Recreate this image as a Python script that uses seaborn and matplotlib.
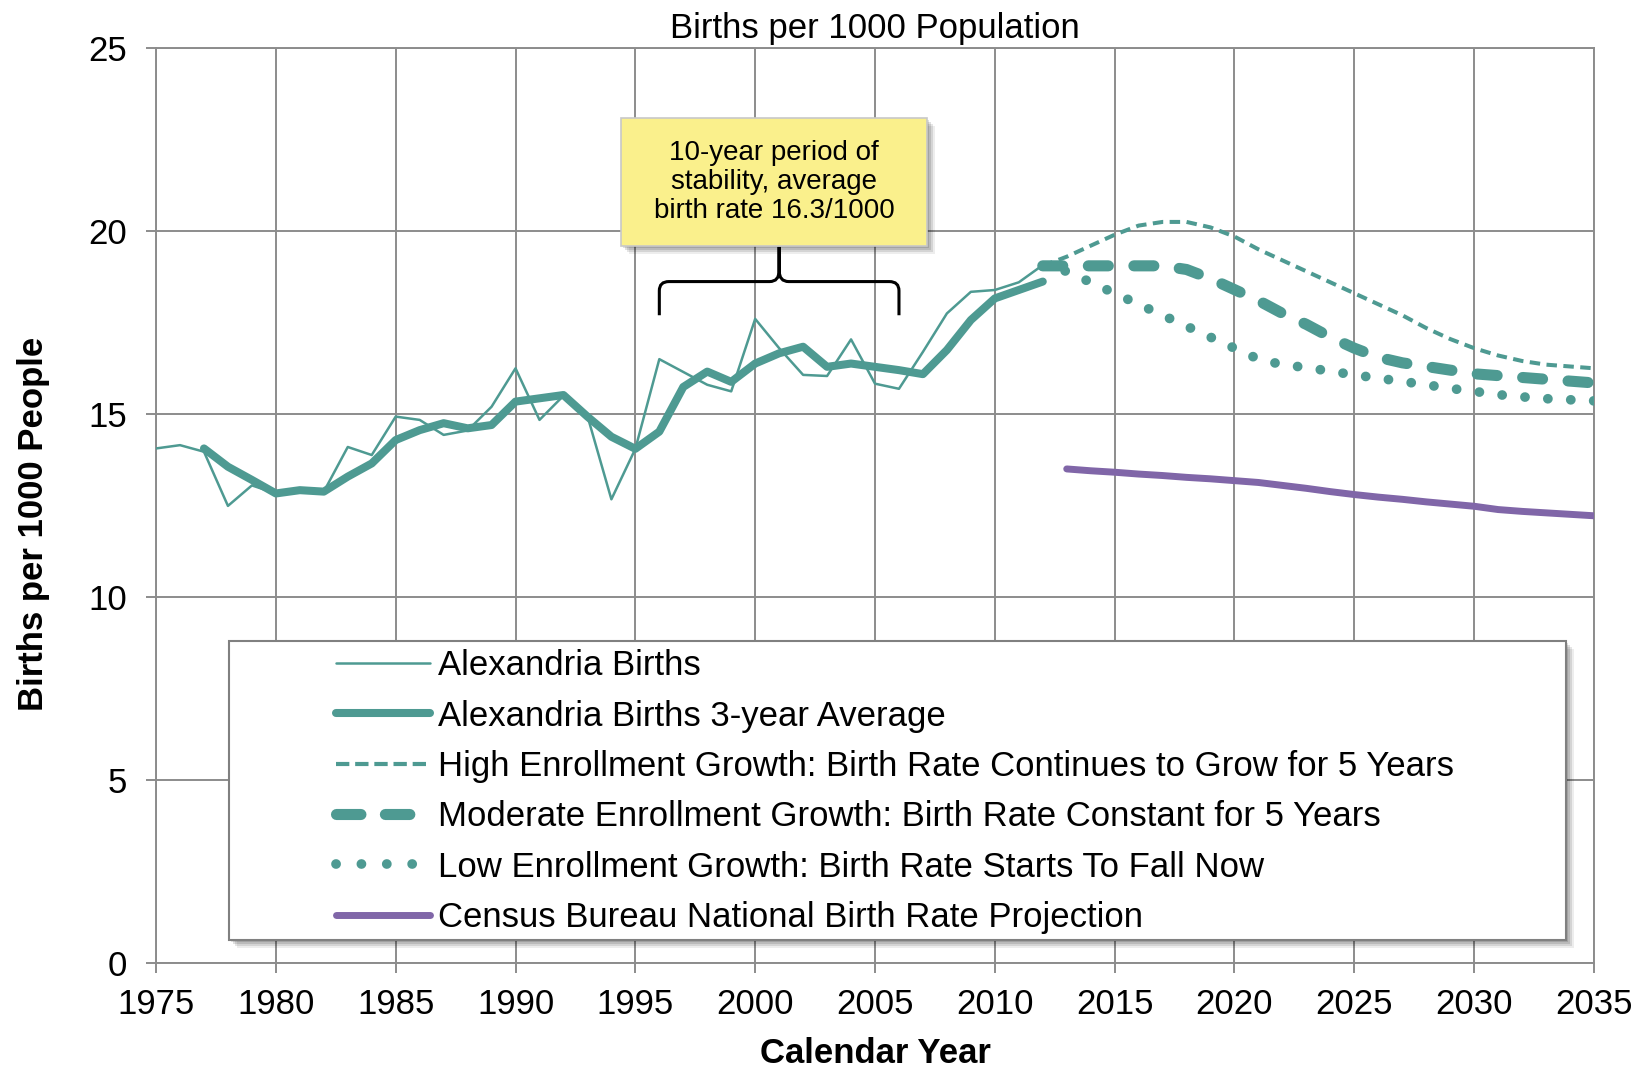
import numpy as np
import matplotlib
matplotlib.use("Agg")
import matplotlib.pyplot as plt
import matplotlib.patheffects as pe
from matplotlib.patches import Rectangle, PathPatch
from matplotlib.path import Path
from matplotlib.lines import Line2D
import seaborn as sns

# --- data ---
years_births = list(range(1975, 2013))
births = [14.06, 14.15, 13.97, 12.49, 13.05, 12.83, 12.92, 12.88, 14.10, 13.88,
          14.93, 14.84, 14.43, 14.55, 15.20, 16.25, 14.84, 15.50, 14.95, 12.67,
          14.05, 16.50, 16.15, 15.80, 15.62, 17.60, 16.80, 16.07, 16.04, 17.04,
          15.83, 15.69, 16.70, 17.75, 18.34, 18.39, 18.60, 19.07]

years_avg = list(range(1977, 2013))
births_avg = [14.06, 13.56, 13.20, 12.83, 12.92, 12.88, 13.29, 13.65, 14.29, 14.56,
              14.75, 14.61, 14.70, 15.34, 15.43, 15.52, 14.93, 14.38, 14.05, 14.52,
              15.74, 16.16, 15.88, 16.38, 16.66, 16.84, 16.29, 16.38, 16.29, 16.20,
              16.09, 16.75, 17.57, 18.16, 18.39, 18.62]

years_proj = list(range(2012, 2036))
high_growth = [19.05, 19.30, 19.60, 19.90, 20.15, 20.25, 20.25, 20.10, 19.85, 19.50,
               19.20, 18.90, 18.60, 18.30, 18.00, 17.70, 17.35, 17.05, 16.80, 16.60,
               16.45, 16.35, 16.30, 16.25]
moderate_growth = [19.05, 19.05, 19.05, 19.05, 19.05, 19.05, 18.95, 18.70, 18.40, 18.10,
                   17.75, 17.45, 17.10, 16.80, 16.55, 16.40, 16.30, 16.20, 16.10, 16.05,
                   16.00, 15.95, 15.90, 15.85]
low_growth = [19.05, 18.90, 18.60, 18.30, 18.00, 17.70, 17.40, 17.10, 16.80, 16.50,
              16.35, 16.27, 16.17, 16.07, 15.98, 15.89, 15.80, 15.70, 15.62, 15.53,
              15.47, 15.42, 15.39, 15.36]

years_census = list(range(2013, 2036))
census = [13.50, 13.45, 13.41, 13.36, 13.32, 13.27, 13.23, 13.18, 13.13, 13.05,
          12.97, 12.88, 12.80, 12.73, 12.67, 12.60, 12.54, 12.48, 12.39, 12.34,
          12.30, 12.26, 12.22]

labels = ["Alexandria Births",
          "Alexandria Births 3-year Average",
          "High Enrollment Growth: Birth Rate Continues to Grow for 5 Years",
          "Moderate Enrollment Growth: Birth Rate Constant for 5 Years",
          "Low Enrollment Growth: Birth Rate Starts To Fall Now",
          "Census Bureau National Birth Rate Projection"]

stable_start, stable_end = 1996, 2006
note = "10-year period of\nstability, average\nbirth rate 16.3/1000"

teal = "#4E9A92"
purple = "#8066A8"
grid_c = "#8C8C8C"

sns.set_theme(style="whitegrid")
plt.rcParams['font.family'] = ['Liberation Sans', 'DejaVu Sans']
plt.rcParams['text.color'] = 'black'
plt.rcParams['axes.labelcolor'] = 'black'

fig = plt.figure(figsize=(16.34, 10.69), dpi=100)
ax = fig.add_axes([0.0955, 0.0992, 0.88, 0.8558])

sns.lineplot(x=years_births, y=births, ax=ax, color=teal, linewidth=1.8, zorder=3)
sns.lineplot(x=years_avg, y=births_avg, ax=ax, color=teal, linewidth=5.8,
             solid_capstyle='round', solid_joinstyle='round', zorder=3)
sns.lineplot(x=years_proj, y=high_growth, ax=ax, color=teal, linewidth=2.9, zorder=3)
ax.lines[-1].set_dashes((2.6, 1.6))
sns.lineplot(x=years_proj, y=moderate_growth, ax=ax, color=teal, linewidth=8,
             dash_capstyle='round', zorder=3)
ax.lines[-1].set_dashes((1.8, 2.3))
sns.lineplot(x=years_proj, y=low_growth, ax=ax, color=teal, linewidth=7,
             dash_capstyle='round', zorder=3)
ax.lines[-1].set_dashes((0.01, 2.35))
sns.lineplot(x=years_census, y=census, ax=ax, color=purple, linewidth=5,
             solid_capstyle='round', zorder=3)

ax.set_xlim(1975, 2035)
ax.set_ylim(0, 25)
ax.set_xticks(range(1975, 2036, 5))
ax.set_yticks(range(0, 26, 5))
ax.grid(True, color=grid_c, linewidth=1.4)
ax.set_axisbelow(True)
for s in ax.spines.values():
    s.set_color(grid_c)
    s.set_linewidth(1.4)
ax.tick_params(axis='both', bottom=True, left=True, length=7, width=1.4,
               color=grid_c, labelsize=25, labelcolor='black')
ax.tick_params(axis='y', pad=14)
ax.tick_params(axis='x', pad=11)

ax.set_title("Births per 1000 Population", fontsize=25, pad=7, color='black')
ax.set_xlabel("Calendar Year", fontsize=25, fontweight='bold')
ax.set_ylabel("Births per 1000 People", fontsize=25, fontweight='bold')
ax.xaxis.set_label_coords(0.5, -0.081)
ax.yaxis.set_label_coords(-0.074, 0.48)


def soft_shadow():
    return [pe.SimplePatchShadow(offset=(o, -o), shadow_rgbFace='black', alpha=a)
            for o, a in [(1.5, 0.12), (3, 0.12), (4.5, 0.1), (6, 0.07)]] + [pe.Normal()]


# annotation box with the brace
note_box = Rectangle((1994.4, 19.59), 12.77, 3.5, facecolor="#FAF08C",
                     edgecolor="#C8C8C8", linewidth=1.2, zorder=5,
                     path_effects=soft_shadow())
ax.add_patch(note_box)
ax.text(1994.4 + 12.77 / 2, 19.59 + 1.75, note, ha='center', va='center',
        fontsize=20, linespacing=1.15, zorder=6, color='black')

mid = (stable_start + stable_end) / 2
y_bar, y_end, y_tip = 18.62, 17.7, 19.57
brace = Path([(stable_start, y_end), (stable_start, y_bar - 0.25),
              (stable_start, y_bar), (stable_start + 0.4, y_bar),
              (mid - 0.4, y_bar), (mid, y_bar), (mid, y_bar + 0.3),
              (mid, y_tip), (mid, y_bar + 0.3),
              (mid, y_bar), (mid + 0.4, y_bar),
              (stable_end - 0.4, y_bar), (stable_end, y_bar), (stable_end, y_bar - 0.25),
              (stable_end, y_end)],
             [Path.MOVETO, Path.LINETO, Path.CURVE3, Path.CURVE3,
              Path.LINETO, Path.CURVE3, Path.CURVE3,
              Path.LINETO, Path.LINETO,
              Path.CURVE3, Path.CURVE3,
              Path.LINETO, Path.CURVE3, Path.CURVE3,
              Path.LINETO])
ax.add_patch(PathPatch(brace, facecolor='none', edgecolor='black', linewidth=2.2,
                       zorder=4, capstyle='butt'))

# legend box
leg_box = Rectangle((0.0508, 0.025), 0.9297, 0.327, transform=ax.transAxes,
                    facecolor='white', edgecolor='#808080', linewidth=1.5, zorder=5,
                    path_effects=soft_shadow())
ax.add_patch(leg_box)

handles = [
    Line2D([], [], color=teal, linewidth=1.8),
    Line2D([], [], color=teal, linewidth=5.8, solid_capstyle='round'),
    Line2D([], [], color=teal, linewidth=3.0, dashes=(3.2, 1.4)),
    Line2D([], [], color=teal, linewidth=8, dashes=(2.2, 2.2), dash_capstyle='round'),
    Line2D([], [], color=teal, linewidth=7, dashes=(0.01, 2.6), dash_capstyle='round'),
    Line2D([], [], color=purple, linewidth=5, solid_capstyle='round'),
]
leg = ax.legend(handles, labels, loc='upper left', bbox_to_anchor=(0.125, 0.343),
                borderaxespad=0, borderpad=0, frameon=False, fontsize=25,
                handlelength=2.7, handletextpad=0.25, labelspacing=0.5)
for t in leg.get_texts():
    t.set_color('black')
leg.set_zorder(7)

fig.savefig("out.png", dpi=100)
